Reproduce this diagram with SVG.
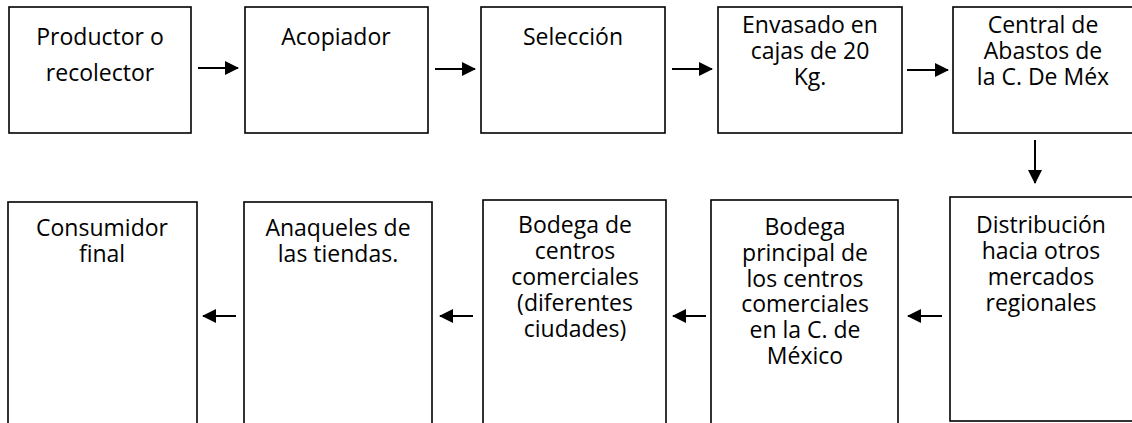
<svg xmlns="http://www.w3.org/2000/svg" width="1132" height="423" viewBox="0 0 1132 423">
<style>
.box{fill:#fff;stroke:#000;stroke-width:1.6}
.t{font-family:"Open Sans","Noto Sans",sans-serif;font-size:23px;fill:#000;text-anchor:middle}
.c{stroke:#000;stroke-width:2;fill:none}
</style>
<defs>
<marker id="ah" markerUnits="userSpaceOnUse" markerWidth="14" markerHeight="14" refX="13" refY="7" orient="auto">
<path d="M0,0 L14,7 L0,14 z" fill="#000"/>
</marker>
</defs>
<rect width="1132" height="423" fill="#fff"/>
<g id="n1"><rect class="box" x="9" y="7" width="182" height="126"/><text class="t" x="100" y="45">Productor o</text><text class="t" x="100" y="81">recolector</text></g>
<g id="n2"><rect class="box" x="245" y="7" width="183" height="126"/><text class="t" x="336" y="45">Acopiador</text></g>
<g id="n3"><rect class="box" x="481" y="7" width="184" height="126"/><text class="t" x="573" y="45">Selección</text></g>
<g id="n4"><rect class="box" x="718" y="7" width="184" height="126"/><text class="t" x="810" y="33">Envasado en</text><text class="t" x="810" y="59">cajas de 20</text><text class="t" x="810" y="85">Kg.</text></g>
<g id="n5"><rect class="box" x="953" y="7" width="190" height="126"/><text class="t" x="1043" y="33">Central de</text><text class="t" x="1043" y="59">Abastos de</text><text class="t" x="1043" y="85">la C. De Méx</text></g>
<g id="n6"><rect class="box" x="950" y="197" width="193" height="224"/><text class="t" x="1041" y="233">Distribución</text><text class="t" x="1041" y="259">hacia otros</text><text class="t" x="1041" y="285">mercados</text><text class="t" x="1041" y="311">regionales</text></g>
<g id="n7"><rect class="box" x="711" y="200" width="187" height="240"/><text class="t" x="805" y="235">Bodega</text><text class="t" x="805" y="261">principal de</text><text class="t" x="805" y="287">los centros</text><text class="t" x="805" y="312">comerciales</text><text class="t" x="805" y="338">en la C. de</text><text class="t" x="805" y="364">México</text></g>
<g id="n8"><rect class="box" x="483" y="200" width="183" height="240"/><text class="t" x="575" y="233">Bodega de</text><text class="t" x="575" y="259">centros</text><text class="t" x="575" y="285">comerciales</text><text class="t" x="575" y="311">(diferentes</text><text class="t" x="575" y="337">ciudades)</text></g>
<g id="n9"><rect class="box" x="244" y="202" width="188" height="240"/><text class="t" x="338" y="236">Anaqueles de</text><text class="t" x="338" y="262">las tiendas.</text></g>
<g id="n10"><rect class="box" x="8" y="202" width="189" height="240"/><text class="t" x="102" y="236">Consumidor</text><text class="t" x="102" y="262">final</text></g>
<g id="connectors">
<path class="c" d="M198,68 H238" marker-end="url(#ah)"/>
<path class="c" d="M435,69 H475" marker-end="url(#ah)"/>
<path class="c" d="M672,69 H712" marker-end="url(#ah)"/>
<path class="c" d="M907,70 H948" marker-end="url(#ah)"/>
<path class="c" d="M1035,140 V183" marker-end="url(#ah)"/>
<path class="c" d="M942,316 H908" marker-end="url(#ah)"/>
<path class="c" d="M706,316 H673" marker-end="url(#ah)"/>
<path class="c" d="M473,316 H440" marker-end="url(#ah)"/>
<path class="c" d="M236,316 H203" marker-end="url(#ah)"/>
</g>
</svg>
